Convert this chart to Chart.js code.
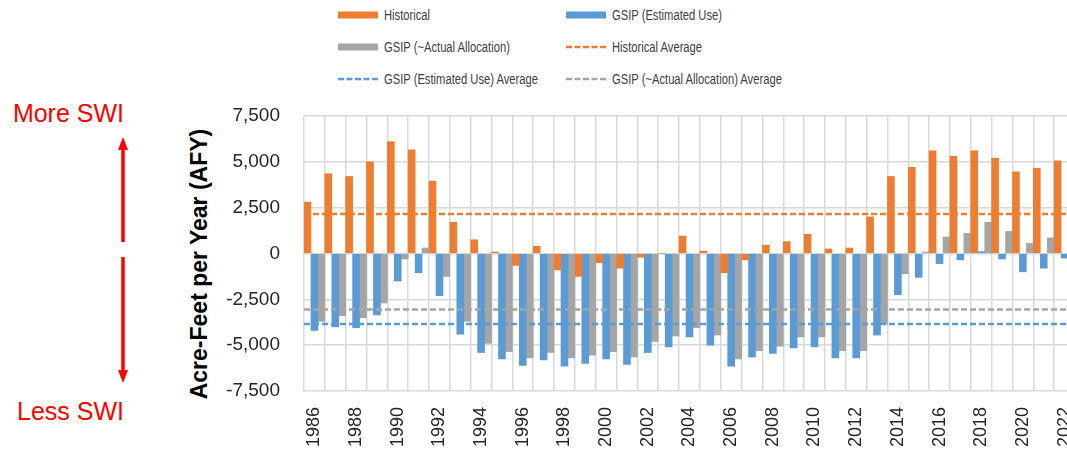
<!DOCTYPE html>
<html>
<head>
<meta charset="utf-8">
<script src="https://cdn.jsdelivr.net/npm/chart.js@4"></script>
<style>
  html, body { margin: 0; padding: 0; background: #fff; overflow: hidden; width: 1067px; height: 454px; }
  body { position: relative; font-family: "Liberation Sans", Arial, sans-serif; }
  .wrap { position: absolute; left: 181px; top: 100px; width: 894px; height: 361px; }
  .legend { position: absolute; left: 0; top: 0; width: 1067px; height: 95px; }
  .item { position: absolute; display: flex; align-items: center; height: 20px; font-size: 14px; color: #404040; white-space: nowrap; }
  .item svg { margin-right: 6px; }
  .item span { display: inline-block; transform: scaleX(0.8); transform-origin: left center; }
  .swi { position: absolute; color: #ff0000; font-size: 25px; width: 124px; text-align: right; left: 0; line-height: 28px; }
  .ytitle { position: absolute; left: 199px; top: 264px; transform: translate(-50%, -50%) rotate(-90deg); font-weight: bold; font-size: 23px; color: #000; white-space: nowrap; }
</style>
</head>
<body>
<div class="legend" id="legend"></div>
<div class="swi" style="top: 99px;">More SWI</div>
<div class="swi" style="top: 397px;">Less SWI</div>
<svg style="position:absolute; left:0; top:0;" width="200" height="454">
  <line x1="123" y1="148" x2="123" y2="242" stroke="#ff0000" stroke-width="3.5"/>
  <polygon points="123,137 118,150 128,150" fill="#ff0000"/>
  <line x1="123" y1="257" x2="123" y2="372" stroke="#ff0000" stroke-width="3.5"/>
  <polygon points="123,383 118,370 128,370" fill="#ff0000"/>
</svg>
<div class="ytitle">Acre-Feet per Year (AFY)</div>
<div class="wrap"><canvas id="swiChart"></canvas></div>

<script>
// anos y series (AFY)
const years = [1986, 1987, 1988, 1989, 1990, 1991, 1992, 1993, 1994, 1995, 1996, 1997, 1998, 1999,
  2000, 2001, 2002, 2003, 2004, 2005, 2006, 2007, 2008, 2009, 2010, 2011, 2012, 2013, 2014, 2015,
  2016, 2017, 2018, 2019, 2020, 2021, 2022];

const historical = [2800, 4350, 4200, 5000, 6100, 5650, 3950, 1700, 750, 80, -650, 400, -900, -1250,
  -500, -800, -200, 0, 950, 130, -1050, -350, 450, 650, 1050, 250, 300, 2000, 4200, 4700,
  5600, 5300, 5600, 5200, 4450, 4650, 5050];

const gsipUse = [-4200, -4000, -4050, -3350, -1500, -1050, -2300, -4400, -5400, -5750, -6100, -5800, -6150, -6000,
  -5750, -6050, -5400, -5100, -4550, -5000, -6150, -5650, -5450, -5150, -5100, -5700, -5700, -4450, -2250, -1300,
  -550, -350, 100, -300, -1000, -800, -250];

const gsipAlloc = [-3700, -3400, -3500, -2700, -300, 300, -1250, -3700, -4900, -5350, -5700, -5400, -5700, -5550,
  -5350, -5650, -4800, -4500, -4050, -4450, -5750, -5300, -5050, -4550, -4550, -5300, -5300, -3850, -1100, 80,
  900, 1100, 1700, 1200, 550, 850, 1000];

const histAvg = 2160;
const useAvg = -3850;
const allocAvg = -3050;

const yTicks = [-7500, -5000, -2500, 0, 2500, 5000, 7500];

const orange = '#ED7D31';
const blue = '#5B9BD5';
const gray = '#A5A5A5';

// promedios: lineas punteadas a todo lo ancho, usando la escala y
const averages = [
  { label: 'Historical Average', value: histAvg, color: orange },
  { label: 'GSIP (Estimated Use) Average', value: useAvg, color: blue },
  { label: 'GSIP (~Actual Allocation) Average', value: allocAvg, color: gray }
];

const avgLines = {
  id: 'avgLines',
  afterDatasetsDraw(chart) {
    const ctx = chart.ctx;
    const area = chart.chartArea;
    const y = chart.scales.y;
    ctx.save();
    ctx.beginPath();
    ctx.rect(area.left, area.top, area.right - area.left, area.bottom - area.top);
    ctx.clip();
    ctx.lineWidth = 2.5;
    ctx.setLineDash([6, 3]);
    averages.forEach(function (a) {
      const py = y.getPixelForValue(a.value);
      ctx.strokeStyle = a.color;
      ctx.beginPath();
      ctx.moveTo(area.left, py);
      ctx.lineTo(area.right, py);
      ctx.stroke();
    });
    ctx.restore();
  }
};

function barSet(label, data, color) {
  return {
    label: label,
    data: data,
    backgroundColor: color,
    xAxisID: 'x',
    categoryPercentage: 1,
    barPercentage: 1
  };
}

const chart = new Chart(document.getElementById('swiChart'), {
  type: 'bar',
  data: {
    labels: years,
    datasets: [
      barSet('Historical', historical, orange),
      barSet('GSIP (Estimated Use)', gsipUse, blue),
      barSet('GSIP (~Actual Allocation)', gsipAlloc, gray)
    ]
  },
  plugins: [avgLines],
  options: {
    responsive: true,
    maintainAspectRatio: false,
    animation: false,
    layout: { padding: { top: 16, left: 0, right: 0, bottom: 0 } },
    plugins: { legend: { display: false }, tooltip: { enabled: false } },
    scales: {
      x: {
        type: 'category',
        grid: { color: '#d9d9d9', lineWidth: 1.5, drawTicks: false },
        border: { display: false },
        ticks: {
          autoSkip: false,
          minRotation: 90,
          maxRotation: 90,
          padding: 16,
          color: '#262626',
          font: { family: 'Liberation Sans', size: 18 },
          callback: function (value, index) {
            return index % 2 === 0 ? String(years[index]) : '';
          }
        },
        afterFit: function (scale) {
          scale.height = 70;
          scale.paddingLeft = 0;
          scale.paddingRight = 0;
        }
      },
      y: {
        min: -7500,
        max: 7500,
        afterBuildTicks: function (scale) {
          scale.ticks = yTicks.map(v => ({ value: v }));
        },
        grid: { color: '#d9d9d9', lineWidth: 1.5, drawTicks: false },
        border: { display: false },
        ticks: {
          padding: 24,
          color: '#262626',
          font: { family: 'Liberation Sans', size: 19 },
          callback: v => v.toLocaleString('en-US')
        },
        afterFit: function (scale) {
          scale.width = 123;
          scale.paddingTop = 0;
          scale.paddingBottom = 0;
        }
      }
    }
  }
});

// leyenda en dos columnas (mismo orden que el original)
const legendItems = [
  { label: chart.data.datasets[0].label, color: orange, dashed: false },
  { label: chart.data.datasets[1].label, color: blue, dashed: false },
  { label: chart.data.datasets[2].label, color: gray, dashed: false },
  { label: averages[0].label, color: averages[0].color, dashed: true },
  { label: averages[1].label, color: averages[1].color, dashed: true },
  { label: averages[2].label, color: averages[2].color, dashed: true }
];
const legendPos = [[338, 5], [566, 5], [338, 37], [566, 37], [338, 69], [566, 69]];
const legend = document.getElementById('legend');
legendItems.forEach(function (it, i) {
  const item = document.createElement('div');
  item.className = 'item';
  item.style.left = legendPos[i][0] + 'px';
  item.style.top = legendPos[i][1] + 'px';
  let icon;
  if (it.dashed) {
    icon = '<svg width="40" height="10"><line x1="0" y1="5" x2="40" y2="5" stroke="' + it.color +
      '" stroke-width="2.5" stroke-dasharray="6 2.5"/></svg>';
  } else {
    icon = '<svg width="40" height="10"><rect x="0" y="1.5" width="40" height="7" fill="' + it.color + '"/></svg>';
  }
  item.innerHTML = icon + '<span>' + it.label + '</span>';
  legend.appendChild(item);
});
</script>
</body>
</html>
